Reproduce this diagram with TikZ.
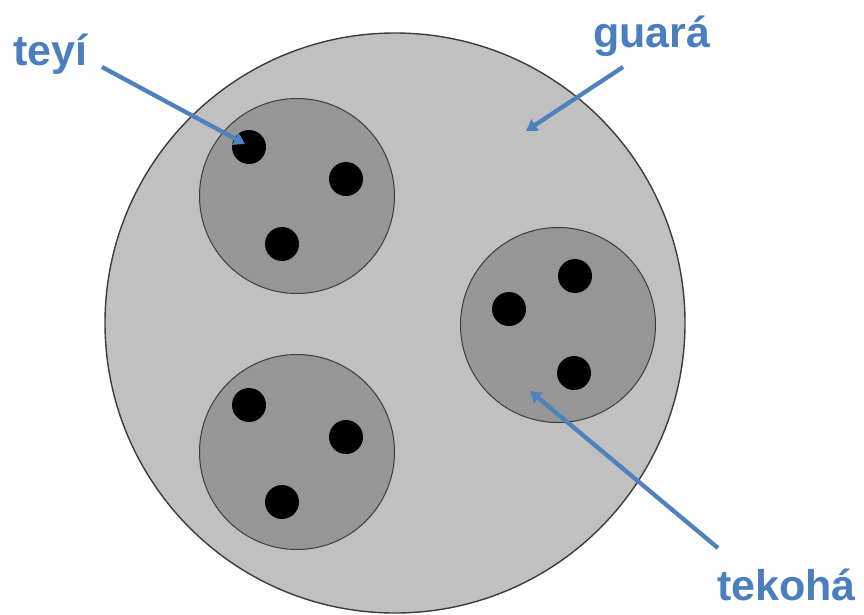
\documentclass[tikz,border=0pt]{standalone}
\usepackage{fontspec}
\setmainfont{Liberation Sans}
\usetikzlibrary{arrows.meta}
\definecolor{outerfill}{RGB}{192,192,192}
\definecolor{innerfill}{RGB}{150,150,150}
\definecolor{rimgray}{RGB}{60,60,60}
\definecolor{labelblue}{RGB}{74,126,190}
\definecolor{arrowblue}{RGB}{79,129,189}
\tikzset{
  outerdisc/.style={circle, fill=outerfill, draw=rimgray, line width=1.4pt, minimum size=580pt, inner sep=0pt},
  cluster/.style={circle, fill=innerfill, draw=rimgray, line width=1pt, minimum size=195pt, inner sep=0pt},
  dot/.style={circle, fill=black, minimum size=34pt, inner sep=0pt},
  tag/.style={font=\bfseries\fontsize{43}{43}\selectfont, text=labelblue, inner sep=0pt, anchor=base west},
  pointer/.style={draw=arrowblue, line width=4.3pt, -{Triangle[length=11pt,width=13pt]}}
}
\begin{document}
\begin{tikzpicture}[x=1pt,y=-1pt]
  \useasboundingbox (0,0) rectangle (864,614);
  % outer disc
  \node[outerdisc] (guaraC) at (395,323) {};
  % three clusters
  \node[cluster] (cA) at (297,196) {};
  \node[cluster] (cB) at (558,325) {};
  \node[cluster] (cC) at (297,452) {};
  % dots in each cluster
  \node[dot] (a1) at (249,147) {};
  \node[dot] (a2) at (346,179) {};
  \node[dot] (a3) at (282,244) {};
  \node[dot] (b1) at (575,276) {};
  \node[dot] (b2) at (509,309) {};
  \node[dot] (b3) at (574,373) {};
  \node[dot] (c1) at (249,405) {};
  \node[dot] (c2) at (346,437) {};
  \node[dot] (c3) at (282,502) {};
  % labels
  \node[tag] (teyi) at (13,65) {teyí};
  \node[tag] (guara) at (593,47) {guará};
  \node[tag] (tekoha) at (717,600) {tekohá};
  % pointer ends
  \coordinate (teyiTail) at (102,67);
  \coordinate (teyiTip) at (245,144);
  \coordinate (guaraTail) at (623,67);
  \coordinate (guaraTip) at (526,131);
  \coordinate (tekohaTail) at (718,548);
  \coordinate (tekohaTip) at (530,391);
  \draw[pointer] (teyiTail) -- (teyiTip);
  \draw[pointer] (guaraTail) -- (guaraTip);
  \draw[pointer] (tekohaTail) -- (tekohaTip);
\end{tikzpicture}
\end{document}
